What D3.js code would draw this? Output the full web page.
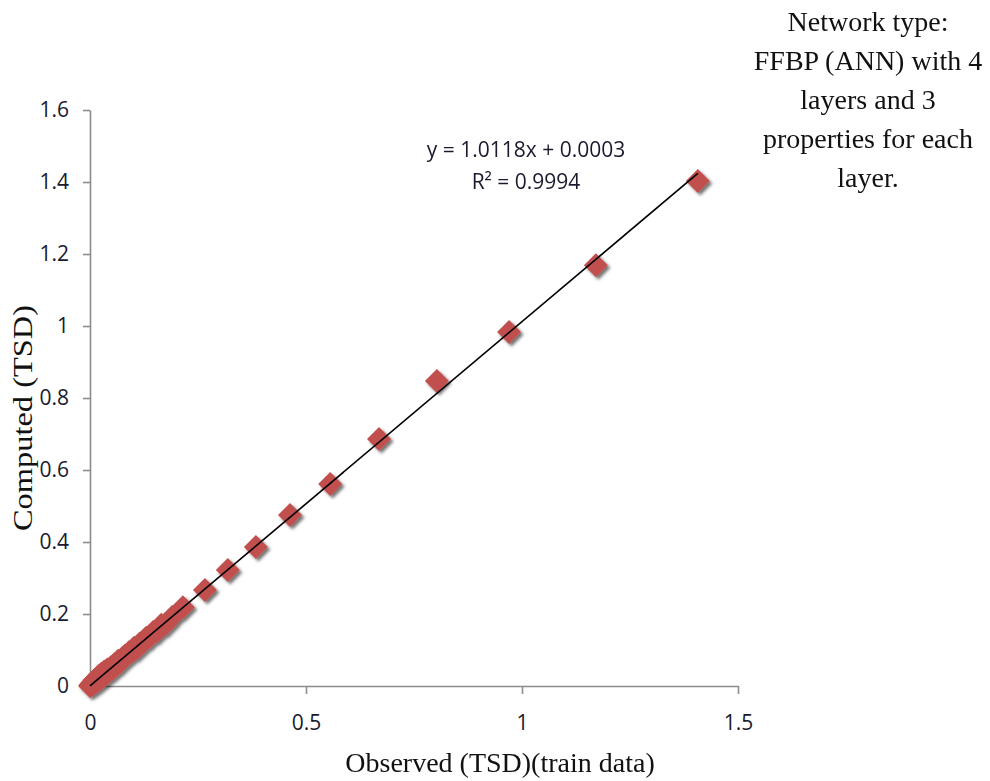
<!DOCTYPE html>
<html>
<head>
<meta charset="utf-8">
<script src="https://cdn.jsdelivr.net/npm/d3@7"></script>
<style>
  html, body { margin: 0; padding: 0; background: #fff; }
  svg { display: block; }
</style>
</head>
<body>
<svg id="chart" width="990" height="781"></svg>
<script>
// --- data ---
const observed = [0, 0.002, 0.004, 0.006, 0.008, 0.010, 0.012, 0.015, 0.018, 0.020,
  0.023, 0.026, 0.030, 0.033, 0.036, 0.040, 0.044, 0.048, 0.052, 0.056,
  0.060, 0.065, 0.070, 0.075, 0.080, 0.085, 0.090, 0.096, 0.102, 0.108,
  0.115, 0.122, 0.130, 0.138, 0.146, 0.155, 0.165, 0.175, 0.190, 0.215,
  0.266, 0.319, 0.384, 0.463, 0.556, 0.669, 0.803, 0.970, 1.171, 1.407];
const computed = [0, 0.004, 0.003, 0.010, 0.006, 0.016, 0.009, 0.020, 0.014, 0.028,
  0.019, 0.034, 0.026, 0.040, 0.031, 0.046, 0.040, 0.052, 0.047, 0.060,
  0.056, 0.070, 0.066, 0.078, 0.083, 0.084, 0.094, 0.095, 0.106, 0.104,
  0.118, 0.120, 0.134, 0.136, 0.150, 0.152, 0.170, 0.172, 0.192, 0.219,
  0.267, 0.322, 0.386, 0.475, 0.561, 0.686, 0.847, 0.983, 1.169, 1.403];
const xTicks = [0, 0.5, 1, 1.5];
const yTicks = [0, 0.2, 0.4, 0.6, 0.8, 1, 1.2, 1.4, 1.6];
const trendSlope = 1.0118;
const trendIntercept = 0.0003;
const equationLines = ["y = 1.0118x + 0.0003", "R² = 0.9994"];
const noteLines = ["Network type:", "FFBP (ANN) with 4", "layers and 3", "properties for each", "layer."];

const svg = d3.select("#chart");
const x = d3.scaleLinear().domain([0, 1.5]).range([90, 738]);
const y = d3.scaleLinear().domain([0, 1.6]).range([686, 110]);

const tickFont = "'Open Sans', Arial, sans-serif";
const serif = "'Liberation Serif', 'Times New Roman', serif";

// shadow under the markers
const defs = svg.append("defs");
defs.append("filter").attr("id", "shadow")
  .attr("x", "-50%").attr("y", "-50%").attr("width", "200%").attr("height", "200%")
  .append("feDropShadow")
  .attr("dx", 2.5).attr("dy", 2.5).attr("stdDeviation", 1.6)
  .attr("flood-color", "#000").attr("flood-opacity", 0.55);

// axes
const xAxis = svg.append("g").attr("transform", `translate(0,${y(0)})`)
  .call(d3.axisBottom(x).tickValues(xTicks).tickSize(8).tickSizeOuter(0).tickPadding(21).tickFormat(d3.format("")));
const yAxis = svg.append("g").attr("transform", `translate(${x(0)},0)`)
  .call(d3.axisLeft(y).tickValues(yTicks).tickSize(7).tickSizeOuter(0).tickPadding(14).tickFormat(d3.format("")));

[xAxis, yAxis].forEach(g => {
  g.select(".domain").attr("stroke", "#8c8c8c").attr("stroke-width", 1.6);
  g.selectAll(".tick line").attr("stroke", "#8c8c8c").attr("stroke-width", 1.6);
  g.selectAll(".tick text").attr("fill", "#1a1a2e")
    .style("font-family", tickFont).style("font-size", "21px");
});

// markers
const diamond = r => `M0,${-r}L${r},0L0,${r}L${-r},0Z`;
svg.append("g").attr("filter", "url(#shadow)")
  .selectAll("path")
  .data(observed.map((o, i) => [o, computed[i]]))
  .join("path")
  .attr("d", diamond(12))
  .attr("transform", d => `translate(${x(d[0])},${y(d[1])})`)
  .attr("fill", "#c0504d");

// linear trend line
const xMax = d3.max(observed);
svg.append("line")
  .attr("x1", x(0)).attr("y1", y(trendIntercept))
  .attr("x2", x(xMax)).attr("y2", y(trendSlope * xMax + trendIntercept))
  .attr("stroke", "#000").attr("stroke-width", 1.6);

// equation label
svg.append("g").selectAll("text")
  .data(equationLines)
  .join("text")
  .attr("x", 526).attr("y", (d, i) => 157 + i * 32)
  .attr("text-anchor", "middle")
  .style("font-family", tickFont).style("font-size", "21px")
  .attr("fill", "#1a1a2e")
  .text(d => d);

// side note
svg.append("g").selectAll("text")
  .data(noteLines)
  .join("text")
  .attr("x", 868).attr("y", (d, i) => 31 + i * 39)
  .attr("text-anchor", "middle")
  .style("font-family", serif).style("font-size", "28px")
  .attr("fill", "#111")
  .text(d => d);

// axis titles
svg.append("text")
  .attr("x", 500).attr("y", 772)
  .attr("text-anchor", "middle")
  .style("font-family", serif).style("font-size", "28px")
  .attr("fill", "#111")
  .text("Observed (TSD)(train data)");

svg.append("text")
  .attr("transform", "translate(32,418) rotate(-90)")
  .attr("text-anchor", "middle")
  .attr("textLength", 226).attr("lengthAdjust", "spacingAndGlyphs")
  .style("font-family", serif).style("font-size", "28px")
  .attr("fill", "#111")
  .text("Computed (TSD)");
</script>
</body>
</html>
